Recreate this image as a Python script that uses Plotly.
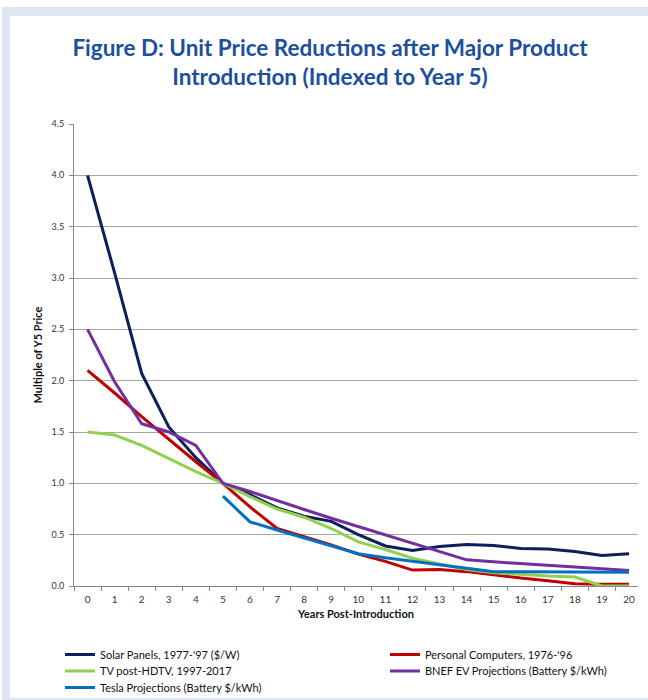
import plotly.graph_objects as go

# years after introduction (category axis)
years = [str(i) for i in range(21)]

solar = [4.0, 3.05, 2.07, 1.55, 1.25, 1.0, 0.89, 0.76, 0.68, 0.63, 0.50, 0.39, 0.345, 0.385,
         0.405, 0.395, 0.365, 0.36, 0.335, 0.297, 0.315]
pcs = [2.1, 1.88, 1.65, 1.43, 1.21, 1.0, 0.77, 0.56, 0.48, 0.40, 0.31, 0.24, 0.155, 0.16,
       0.14, 0.106, 0.077, 0.052, 0.023, 0.016, 0.016]
tv = [1.5, 1.47, 1.37, 1.245, 1.115, 1.0, 0.87, 0.75, 0.67, 0.56, 0.43, 0.355, 0.27, 0.215,
      0.16, 0.13, 0.113, 0.097, 0.087, 0.0, 0.0]
bnef = [2.5, 1.99, 1.58, 1.5, 1.37, 1.0, 0.92, 0.83, 0.745, 0.66, 0.58, 0.5, 0.42, 0.34,
        0.255, 0.235, 0.216, 0.2, 0.184, 0.168, 0.152]
tesla = [None, None, None, None, None, 0.875, 0.625, 0.545, 0.47, 0.39, 0.315, 0.275, 0.242, 0.21,
         0.175, 0.14, 0.138, 0.137, 0.136, 0.135, 0.135]

names = ["Solar Panels, 1977-'97 ($/W)", "Personal Computers, 1976-'96",
         "TV post-HDTV, 1997-2017", "BNEF EV Projections (Battery $/kWh)",
         "Tesla Projections (Battery $/kWh)"]
series = [solar, pcs, tv, bnef, tesla]
colors = ["#0c1e5c", "#c00000", "#92d050", "#7030a0", "#0070c0"]

FONT = "Lato, Liberation Sans, sans-serif"

W, H = 648, 700
L, R, T, B = 74, 10, 124, 114
pw, ph = W - L - R, H - T - B

def px(x):
    return (x - L) / pw

def py(y):
    return (H - B - y) / ph

# one small legend per entry so the two-column layout matches
legend_pos = [(60, 654.5), (385, 654.5), (60, 671), (385, 671), (60, 687.5)]
legend_ids = ["legend", "legend2", "legend3", "legend4", "legend5"]

fig = go.Figure()
for name, vals, c, lid in zip(names, series, colors, legend_ids):
    fig.add_trace(go.Scatter(x=years, y=vals, name=name, mode="lines", legend=lid,
                             line=dict(color=c, width=3), connectgaps=False))

# light blue frame around the white panel
fig.add_shape(type="rect", xref="paper", yref="paper", layer="below",
              x0=px(2), x1=px(660), y0=py(7), y1=py(710),
              fillcolor="#dfe6f3", line_width=0)
fig.add_shape(type="rect", xref="paper", yref="paper", layer="below",
              x0=px(10), x1=px(660), y0=py(16), y1=py(697.7),
              fillcolor="white", line_width=0)

legends = {}
for lid, (lx, ly) in zip(legend_ids, legend_pos):
    legends[lid] = dict(orientation="h", x=px(lx), xanchor="left", y=py(ly), yanchor="middle",
                        itemwidth=30, font=dict(size=11, color="#111111"),
                        bgcolor="rgba(0,0,0,0)", visible=True)

fig.update_layout(
    width=W, height=H, showlegend=True,
    margin=dict(l=L, r=R, t=T, b=B, autoexpand=False),
    paper_bgcolor="white", plot_bgcolor="rgba(0,0,0,0)",
    font=dict(family=FONT, size=10, color="#333333"),
    title=dict(text="<b>Figure D: Unit Price Reductions after Major Product<br>Introduction (Indexed to Year 5)</b>",
               x=330 / W, xanchor="center", y=1 - 56 / H, yanchor="top",
               font=dict(family=FONT, size=22.5, color="#1c4f9c")),
    xaxis=dict(type="category", range=[-0.5, 20.33], tickson="boundaries",
               ticks="outside", ticklen=4, tickcolor="#888888", ticklabelstandoff=4,
               showline=True, linecolor="#888888", linewidth=1, showgrid=False,
               tickfont=dict(size=10, color="#333333"),
               title=dict(text="<b>Years Post-Introduction</b>", standoff=6,
                          font=dict(size=11, color="#111111"))),
    yaxis=dict(range=[0, 4.5], dtick=0.5, tickformat=".1f",
               ticks="outside", ticklen=4, tickcolor="#888888", ticklabelstandoff=3,
               showline=True, linecolor="#888888", linewidth=1,
               showgrid=True, gridcolor="#a6a6a6", gridwidth=1, zeroline=False,
               tickfont=dict(size=9, color="#333333"),
               title=dict(text="<b>Multiple of Y5 Price</b>", standoff=6,
                          font=dict(size=11, color="#111111"))),
    **legends,
)

fig.write_html("out.html", config={"displayModeBar": False},
               post_script="document.body.style.margin='0';")
